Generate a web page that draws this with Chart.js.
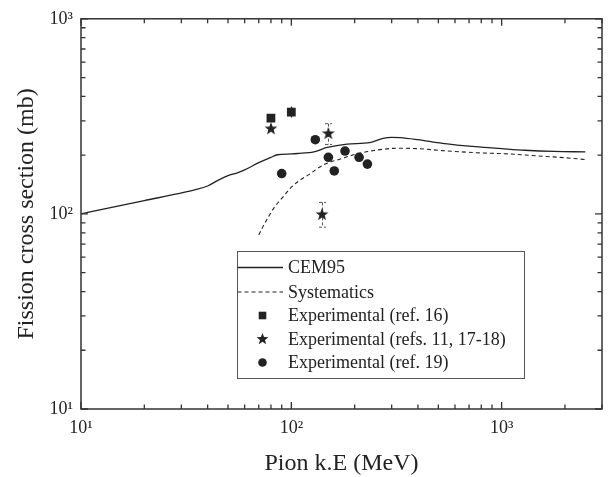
<!DOCTYPE html>
<html><head><meta charset="utf-8">
<script src="https://cdn.jsdelivr.net/npm/chart.js@4.4.1/dist/chart.umd.min.js"></script>
<style>html,body{margin:0;padding:0;background:#fff;}#wrap{width:610px;height:477px;}</style>
</head><body><div id="wrap"><canvas id="c" width="610" height="477"></canvas></div>
<script>
// ---- data ----
const xTickValues = [10, 100, 1000];
const xTickLabels = ['10\u00b9', '10\u00b2', '10\u00b3'];
const yTickValues = [10, 100, 1000];
const yTickLabels = ['10\u00b9', '10\u00b2', '10\u00b3'];

const cem95E = [10, 14, 20, 29, 35, 40, 45, 50, 55, 60, 70, 80, 86, 100, 107, 128, 148, 184, 236, 273, 300, 330, 400, 523, 750, 1000, 1286, 1778, 2500];
const cem95S = [100, 108, 117, 127, 133, 139, 149, 157, 162, 168, 183, 195, 201, 203, 204, 208, 219, 228, 232, 244, 247, 246, 240, 230, 221, 216, 212, 209, 208];

const sysE = [70, 75, 83, 90, 100, 110, 120, 143, 171, 205, 245, 316, 400, 523, 750, 1074, 1500, 2000, 2500];
const sysS = [78, 90, 108, 120, 137, 149, 158, 179, 191, 203, 211, 217, 216, 211, 206, 203, 198, 194, 190];

const ref16E = [80, 100];
const ref16S = [310, 332];
const ref16Lo = [302, 312];
const ref16Hi = [322, 355];

const ref11E = [80, 150, 140];
const ref11S = [275, 260, 100];
const ref11Lo = [null, 227, 85.5];
const ref11Hi = [null, 290, 114.5];

const ref19E = [90, 130, 150, 160, 180, 210, 230];
const ref19S = [161, 240, 195, 166, 210, 195, 180];

const legendLabels = ['CEM95', 'Systematics', 'Experimental (ref. 16)', 'Experimental (refs. 11, 17-18)', 'Experimental (ref. 19)'];

// ---- helpers ----
const pts = (xs, ys) => xs.map((x, i) => ({x, y: ys[i]}));
const FONT = "'Liberation Serif','Times New Roman',serif";
const INK = '#222';

function makeStar(size, color) {
  const c = document.createElement('canvas');
  c.width = c.height = size;
  const g = c.getContext('2d');
  g.fillStyle = color;
  g.beginPath();
  const cx = size / 2, cy = size / 2 + size * 0.05;
  const ro = size * 0.48, ri = size * 0.2;
  for (let i = 0; i < 10; i++) {
    const r = i % 2 ? ri : ro;
    const a = -Math.PI / 2 + i * Math.PI / 5;
    g.lineTo(cx + r * Math.cos(a), cy + r * Math.sin(a));
  }
  g.closePath();
  g.fill();
  return c;
}
const starImg = makeStar(14, INK);
const starImgSmall = makeStar(13, INK);

const errSets = [
  {ds: 2, lo: ref16Lo, hi: ref16Hi, dashed: false, caps: false},
  {ds: 3, lo: ref11Lo, hi: ref11Hi, dashed: true, caps: true}
];

const framePlugin = {
  id: 'frame',
  beforeDatasetsDraw(chart) {
    const ctx = chart.ctx, xs = chart.scales.x, ys = chart.scales.y;
    ctx.save();
    errSets.forEach(es => {
      const d = chart.data.datasets[es.ds].data;
      ctx.strokeStyle = es.dashed ? '#555' : '#333';
      ctx.lineWidth = es.dashed ? 1 : 1.4;
      d.forEach((p, i) => {
        if (es.lo[i] == null) return;
        const px = Math.round(xs.getPixelForValue(p.x)) + 0.5;
        const y1 = ys.getPixelForValue(es.hi[i]);
        const y2 = ys.getPixelForValue(es.lo[i]);
        ctx.setLineDash(es.dashed ? [3, 2] : []);
        ctx.beginPath();
        ctx.moveTo(px, y1); ctx.lineTo(px, y2);
        if (es.caps) {
          ctx.moveTo(px - 3.5, y1); ctx.lineTo(px + 3.5, y1);
          ctx.moveTo(px - 3.5, y2); ctx.lineTo(px + 3.5, y2);
        }
        ctx.stroke();
      });
    });
    ctx.restore();
  },
  afterDraw(chart) {
    const ctx = chart.ctx, a = chart.chartArea, xs = chart.scales.x, ys = chart.scales.y;
    ctx.save();
    ctx.strokeStyle = '#333';
    ctx.lineWidth = 1.5;
    ctx.strokeRect(a.left, a.top, a.right - a.left, a.bottom - a.top);
    ctx.lineWidth = 1.3;
    const minor = (lo, hi) => {
      const out = [];
      for (let d = 1; d <= 1e4; d *= 10) for (let m = 1; m <= 9; m++) {
        const v = m * d;
        if (v >= lo && v <= hi) out.push({v, major: m === 1});
      }
      return out;
    };
    ctx.beginPath();
    minor(xs.min, xs.max).forEach(t => {
      const px = xs.getPixelForValue(t.v);
      const L = t.major ? 7 : 4.5;
      ctx.moveTo(px, a.bottom); ctx.lineTo(px, a.bottom - L);
      ctx.moveTo(px, a.top); ctx.lineTo(px, a.top + L);
    });
    minor(ys.min, ys.max).forEach(t => {
      const py = ys.getPixelForValue(t.v);
      const L = t.major ? 7 : 4.5;
      ctx.moveTo(a.left, py); ctx.lineTo(a.left + L, py);
      ctx.moveTo(a.right, py); ctx.lineTo(a.right - L, py);
    });
    ctx.stroke();

    // legend
    const box = {l: 237.5, t: 251.5, r: 524.5, b: 378.5};
    ctx.fillStyle = '#fff';
    ctx.fillRect(box.l, box.t, box.r - box.l, box.b - box.t);
    ctx.strokeStyle = '#555';
    ctx.lineWidth = 1;
    ctx.setLineDash([]);
    ctx.strokeRect(box.l, box.t, box.r - box.l, box.b - box.t);
    const rows = [267.5, 292, 315.5, 339, 362.5];
    const mx = 262.5, tx = 288;
    ctx.font = '18px ' + FONT;
    ctx.textBaseline = 'middle';
    ctx.textAlign = 'left';
    chart.data.datasets.forEach((ds, i) => {
      const y = rows[i];
      if (ds.showLine) {
        ctx.strokeStyle = ds.borderColor;
        ctx.lineWidth = ds.borderWidth;
        ctx.setLineDash(ds.borderDash || []);
        ctx.beginPath();
        ctx.moveTo(box.l, y); ctx.lineTo(283, y);
        ctx.stroke();
        ctx.setLineDash([]);
      } else {
        ctx.fillStyle = INK;
        if (ds.pointStyle === 'rect') {
          ctx.fillRect(mx - 3.8, y - 3.8, 7.6, 7.6);
        } else if (ds.pointStyle === 'circle') {
          ctx.beginPath(); ctx.arc(mx, y, 4.3, 0, Math.PI * 2); ctx.fill();
        } else {
          ctx.drawImage(starImgSmall, mx - 6.5, y - 7);
        }
      }
      ctx.fillStyle = INK;
      ctx.fillText(legendLabels[i], tx, y + 1);
    });
    ctx.restore();
  }
};

new Chart(document.getElementById('c'), {
  type: 'scatter',
  data: {
    datasets: [
      {label: legendLabels[0], data: pts(cem95E, cem95S), showLine: true, borderColor: INK, borderWidth: 1.3, pointRadius: 0, cubicInterpolationMode: 'monotone'},
      {label: legendLabels[1], data: pts(sysE, sysS), showLine: true, borderColor: INK, borderWidth: 1.1, borderDash: [4, 3], pointRadius: 0, cubicInterpolationMode: 'monotone'},
      {label: legendLabels[2], data: pts(ref16E, ref16S), pointStyle: 'rect', pointRadius: 6.2, backgroundColor: INK, borderColor: INK, borderWidth: 0},
      {label: legendLabels[3], data: pts(ref11E, ref11S), pointStyle: starImg, pointRadius: 7, backgroundColor: INK, borderColor: INK},
      {label: legendLabels[4], data: pts(ref19E, ref19S), pointStyle: 'circle', pointRadius: 4.8, backgroundColor: INK, borderColor: INK, borderWidth: 0}
    ]
  },
  options: {
    responsive: false,
    animation: false,
    devicePixelRatio: 1,
    layout: {padding: {left: 0, right: 1, top: 18, bottom: 0}},
    plugins: {legend: {display: false}, tooltip: {enabled: false}},
    scales: {
      x: {
        type: 'logarithmic', min: 10, max: 3000, position: 'bottom',
        border: {display: false},
        grid: {display: false, drawTicks: false},
        afterBuildTicks: s => { s.ticks = xTickValues.map(v => ({value: v})); },
        afterFit: s => { s.height = 68; },
        ticks: {
          autoSkip: false, maxRotation: 0, minRotation: 0, padding: 8,
          color: INK, font: {family: FONT, size: 18},
          callback: v => { const i = xTickValues.indexOf(v); return i >= 0 ? xTickLabels[i] : ''; }
        },
        title: {display: true, text: 'Pion k.E (MeV)', color: INK, font: {family: FONT, size: 24}, padding: {top: 0, bottom: -1}}
      },
      y: {
        type: 'logarithmic', min: 10, max: 1000, position: 'left',
        border: {display: false},
        grid: {display: false, drawTicks: false},
        afterBuildTicks: s => { s.ticks = yTickValues.map(v => ({value: v})); },
        afterFit: s => { s.width = 81; },
        ticks: {
          autoSkip: false, padding: 8,
          color: INK, font: {family: FONT, size: 18},
          callback: v => { const i = yTickValues.indexOf(v); return i >= 0 ? yTickLabels[i] : ''; }
        },
        title: {display: true, text: 'Fission cross section (mb)', color: INK, font: {family: FONT, size: 24}, padding: {top: 12, bottom: 0}}
      }
    }
  },
  plugins: [framePlugin]
});
</script></body></html>
